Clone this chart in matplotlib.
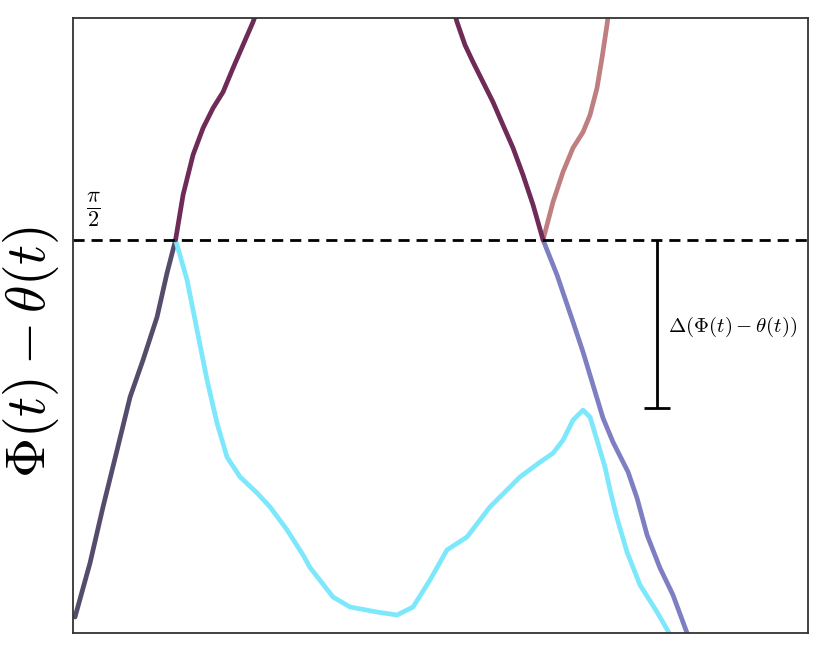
import numpy as np
import matplotlib.pyplot as plt

plt.rcParams['mathtext.fontset'] = 'cm'

# rising branch, below and above pi/2
rise_lo_t = [0.027, 0.231, 0.408, 0.599, 0.776, 0.952, 1.143, 1.279, 1.395]
rise_lo_y = [0.064, 0.280, 0.504, 0.731, 0.943, 1.091, 1.263, 1.439, 1.571]
rise_hi_t = [1.395, 1.497, 1.633, 1.769, 1.905, 2.041, 2.177, 2.313, 2.449, 2.517]
rise_hi_y = [1.571, 1.751, 1.911, 2.018, 2.098, 2.162, 2.258, 2.350, 2.442, 2.498]

# falling branch coming back down to pi/2
fall_t = [5.170, 5.224, 5.333, 5.442, 5.578, 5.714, 5.850, 5.986, 6.122, 6.259, 6.395]
fall_y = [2.498, 2.442, 2.350, 2.282, 2.202, 2.122, 2.030, 1.939, 1.831, 1.711, 1.571]

# after second crossing
up_t = [6.395, 6.531, 6.667, 6.803, 6.939, 7.034, 7.129, 7.197, 7.265, 7.293]
up_y = [1.571, 1.723, 1.843, 1.939, 2.002, 2.070, 2.178, 2.298, 2.430, 2.498]
down_t = [6.395, 6.585, 6.803, 6.939, 7.075, 7.211, 7.347, 7.551, 7.673, 7.810,
          7.986, 8.163, 8.354]
down_y = [1.571, 1.431, 1.243, 1.123, 0.991, 0.859, 0.763, 0.644, 0.540, 0.392,
          0.260, 0.152, 0.0]

# cyan branch after first crossing
cyan_t = [1.395, 1.551, 1.687, 1.823, 1.959, 2.095, 2.272, 2.503, 2.680, 2.912,
          3.129, 3.224, 3.537, 3.769, 4.136, 4.408, 4.626, 4.857, 5.088, 5.361,
          5.673, 5.946, 6.082, 6.354, 6.531, 6.667, 6.803, 6.939, 7.034, 7.129,
          7.238, 7.306, 7.401, 7.537, 7.714, 7.946, 8.110]
cyan_y = [1.571, 1.411, 1.211, 1.011, 0.839, 0.703, 0.624, 0.560, 0.504, 0.412,
          0.312, 0.262, 0.144, 0.104, 0.084, 0.072, 0.104, 0.212, 0.332, 0.384,
          0.504, 0.584, 0.624, 0.683, 0.719, 0.771, 0.851, 0.891, 0.863, 0.771,
          0.663, 0.572, 0.460, 0.324, 0.192, 0.084, 0.0]

# delta marker
delta_t = 7.946
delta_lo = 0.899

fig = plt.figure(figsize=(8.3, 6.63), dpi=100)
ax = fig.add_axes([0.088, 0.0452, 0.8855, 0.9277])

lw = 3.4
kw = dict(lw=lw, solid_capstyle='round', solid_joinstyle='round')
ax.plot(rise_lo_t, rise_lo_y, color='#554c6c', **kw)
ax.plot(cyan_t, cyan_y, color='#7de8fb', **kw)
ax.plot(down_t, down_y, color='#7e7ec2', **kw)
ax.plot(up_t, up_y, color='#bf7e7f', **kw)
ax.plot(rise_hi_t, rise_hi_y, color='#6e2b57', **kw)
ax.plot(fall_t, fall_y, color='#6e2b57', **kw)

ax.axhline(np.pi / 2, color='black', ls='--', lw=2, dashes=(4, 2.5))
ax.vlines(delta_t, delta_lo, np.pi / 2, color='black', lw=2)
ax.hlines(delta_lo, delta_t - 0.18, delta_t + 0.18, color='black', lw=2)
ax.text(delta_t + 0.15, 1.223, r'$\Delta(\Phi(t)-\theta(t))$', fontsize=15,
        va='center', ha='left')
ax.text(0.27, 1.69, r'$\frac{\pi}{2}$', fontsize=23, va='center', ha='center')

ax.set_xlim(0, 10)
ax.set_ylim(0, 2.458)
ax.set_xticks([])
ax.set_yticks([])
for s in ax.spines.values():
    s.set_color('#333333')
    s.set_linewidth(1.3)
ax.set_ylabel(r'$\Phi(t)-\theta(t)$', fontsize=40)
ax.yaxis.set_label_coords(-0.016, 0.457)

fig.savefig('out.png', dpi=100)
